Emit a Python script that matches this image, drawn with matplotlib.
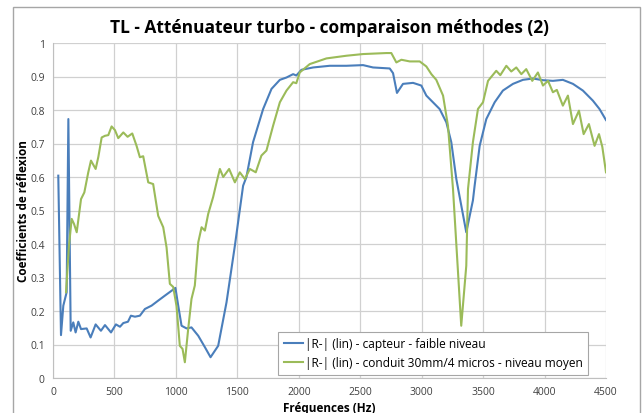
import matplotlib.pyplot as plt
from matplotlib.patches import Rectangle

# |R-| capteur - faible niveau
freq_capteur = [43, 65, 84, 111, 125, 144, 165, 184, 206, 228, 274, 306, 347, 390, 423,
                472, 512, 545, 572, 610, 634, 667, 707, 748, 802, 856, 911, 978, 996,
                1019, 1046, 1087, 1127, 1182, 1236, 1282, 1344, 1412, 1480, 1547, 1574,
                1628, 1710, 1778, 1846, 1900, 1954, 1980, 2022, 2117, 2252, 2388, 2523,
                2604, 2740, 2767, 2799, 2848, 2930, 2997, 3038, 3092, 3146, 3201, 3241,
                3282, 3363, 3417, 3431, 3472, 3526, 3594, 3661, 3743, 3824, 3905, 3987,
                4068, 4149, 4231, 4312, 4393, 4447, 4500]
r_capteur = [0.604, 0.128, 0.216, 0.256, 0.773, 0.141, 0.166, 0.136, 0.168, 0.146, 0.148,
             0.121, 0.160, 0.141, 0.158, 0.136, 0.160, 0.153, 0.164, 0.168, 0.186, 0.183,
             0.186, 0.206, 0.216, 0.231, 0.246, 0.264, 0.269, 0.216, 0.156, 0.148, 0.151,
             0.126, 0.092, 0.062, 0.096, 0.226, 0.395, 0.574, 0.600, 0.704, 0.803, 0.863,
             0.890, 0.897, 0.907, 0.903, 0.920, 0.927, 0.932, 0.932, 0.934, 0.927, 0.924,
             0.910, 0.851, 0.878, 0.881, 0.873, 0.843, 0.823, 0.803, 0.763, 0.704, 0.594,
             0.435, 0.530, 0.574, 0.693, 0.773, 0.823, 0.858, 0.878, 0.890, 0.894, 0.889,
             0.887, 0.890, 0.878, 0.858, 0.828, 0.803, 0.770]

# |R-| conduit 30mm/4 micros - niveau moyen
freq_conduit = [106, 130, 152, 171, 193, 228, 255, 287, 309, 347, 369, 396, 423, 450, 477,
                504, 531, 572, 607, 645, 680, 707, 734, 775, 815, 856, 897, 924, 951, 978,
                1005, 1032, 1054, 1073, 1100, 1127, 1154, 1182, 1209, 1236, 1263, 1303,
                1331, 1358, 1385, 1433, 1480, 1520, 1561, 1602, 1650, 1696, 1737, 1791,
                1846, 1900, 1954, 1980, 2008, 2089, 2225, 2388, 2523, 2713, 2753, 2794,
                2835, 2903, 2984, 3038, 3079, 3119, 3174, 3214, 3255, 3322, 3363, 3377,
                3417, 3458, 3499, 3540, 3607, 3640, 3689, 3729, 3770, 3811, 3851, 3900,
                3946, 3987, 4028, 4068, 4100, 4149, 4190, 4231, 4280, 4318, 4361, 4407,
                4443, 4470, 4500]
r_conduit = [0.256, 0.395, 0.475, 0.460, 0.435, 0.534, 0.554, 0.614, 0.649, 0.624, 0.660,
             0.718, 0.723, 0.725, 0.751, 0.740, 0.716, 0.733, 0.720, 0.730, 0.693, 0.659,
             0.662, 0.584, 0.579, 0.484, 0.450, 0.390, 0.281, 0.272, 0.215, 0.096, 0.087,
             0.047, 0.146, 0.236, 0.276, 0.405, 0.450, 0.440, 0.490, 0.540, 0.584, 0.624,
             0.600, 0.624, 0.584, 0.614, 0.594, 0.624, 0.614, 0.664, 0.679, 0.753, 0.823,
             0.858, 0.883, 0.880, 0.912, 0.937, 0.954, 0.962, 0.967, 0.970, 0.970, 0.942,
             0.950, 0.945, 0.945, 0.930, 0.907, 0.890, 0.843, 0.753, 0.564, 0.156, 0.335,
             0.564, 0.704, 0.803, 0.823, 0.887, 0.917, 0.904, 0.932, 0.915, 0.927, 0.907,
             0.922, 0.887, 0.912, 0.873, 0.887, 0.853, 0.860, 0.813, 0.843, 0.758, 0.798,
             0.728, 0.758, 0.693, 0.728, 0.690, 0.614]

x_ticks = [0, 500, 1000, 1500, 2000, 2500, 3000, 3500, 4000, 4500]
y_ticks = [0, 0.1, 0.2, 0.3, 0.4, 0.5, 0.6, 0.7, 0.8, 0.9, 1]
y_labels = ['0', '0.1', '0.2', '0.3', '0.4', '0.5', '0.6', '0.7', '0.8', '0.9', '1']

plt.rcParams['font.family'] = ['Open Sans', 'DejaVu Sans']

fig = plt.figure(figsize=(6.44, 4.14), dpi=100)
# outer chart-area border
fig.patches.append(Rectangle((13 / 644, -0.05), 627 / 644, 1.05 - 8 / 414,
                             transform=fig.transFigure, fill=False,
                             edgecolor='#a6a6a6', linewidth=1))
ax = fig.add_axes([53 / 644, 35 / 414, 553 / 644, 335 / 414])

ax.plot(freq_capteur, r_capteur, color='#4a7ebb', linewidth=1.5,
        label='|R-| (lin) - capteur - faible niveau')
ax.plot(freq_conduit, r_conduit, color='#9bbb59', linewidth=1.5,
        label='|R-| (lin) - conduit 30mm/4 micros - niveau moyen')

ax.set_xlim(0, 4500)
ax.set_ylim(0, 1)
ax.set_xticks(x_ticks)
ax.set_yticks(y_ticks)
ax.set_yticklabels(y_labels)
ax.tick_params(length=0, labelsize=7.5, colors='#404040', pad=6)
ax.grid(True, color='#d0d0d0', linewidth=0.9)
ax.set_axisbelow(True)
for side in ['top', 'right']:
    ax.spines[side].set_visible(False)
for side in ['left', 'bottom']:
    ax.spines[side].set_color('#bfbfbf')

ax.set_title('TL - Atténuateur turbo - comparaison méthodes (2)',
             fontsize=12.5, fontweight='bold', pad=8)
ax.set_ylabel('Coefficients de réflexion', fontsize=8.5, fontweight='bold', labelpad=0)
ax.set_xlabel('Fréquences (Hz)', fontsize=8.5, fontweight='bold', labelpad=3)

leg = ax.legend(loc='lower right', bbox_to_anchor=(0.967, 0.01), fontsize=8.6,
                fancybox=False, framealpha=1, edgecolor='#a6a6a6',
                handlelength=1.6, handletextpad=0.15, borderpad=0.45,
                borderaxespad=0, labelspacing=0.5)
leg.get_frame().set_linewidth(0.8)

plt.savefig('out.png', dpi=100)
